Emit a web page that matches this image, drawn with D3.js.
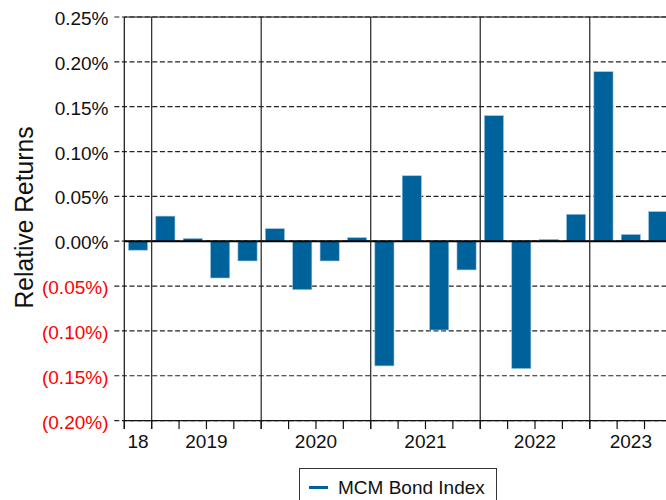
<!DOCTYPE html>
<html>
<head>
<meta charset="utf-8">
<script src="https://cdn.jsdelivr.net/npm/d3@7/dist/d3.min.js"></script>
<style>
  html, body { margin: 0; padding: 0; background: #fff; }
  svg { display: block; font-family: "Liberation Sans", Arial, sans-serif; }
</style>
</head>
<body>
<svg id="chart" width="666" height="500"></svg>
<script>
// ---- Data ----
const quarters = ["2018Q4",
  "2019Q1","2019Q2","2019Q3","2019Q4",
  "2020Q1","2020Q2","2020Q3","2020Q4",
  "2021Q1","2021Q2","2021Q3","2021Q4",
  "2022Q1","2022Q2","2022Q3","2022Q4",
  "2023Q1","2023Q2","2023Q3"];
const bondIndex = [-0.010,
  0.028, 0.003, -0.041, -0.022,
  0.014, -0.054, -0.022, 0.004,
  -0.139, 0.073, -0.099, -0.032,
  0.140, -0.142, 0.002, 0.030,
  0.189, 0.0075, 0.033];
const years = ["2018","2019","2020","2021","2022","2023"];
const yearLabels = ["18","2019","2020","2021","2022","2023"];
const yTicks = [-0.20, -0.15, -0.10, -0.05, 0.00, 0.05, 0.10, 0.15, 0.20, 0.25];
const seriesName = "MCM Bond Index";
const yTitle = "Relative Returns";

(function () {
// ---- Layout ----
const svg = d3.select("#chart");
const pLeft = 124.3, pTop = 17, pBottom = 420.6;
const step = 27.38;
const pRight = pLeft + step * quarters.length;

const x = d3.scaleBand().domain(quarters).range([pLeft, pRight]).paddingInner(0.3).paddingOuter(0.15);
const y = d3.scaleLinear().domain([-0.20, 0.25]).range([pBottom, pTop]);

const barColor = "#00629b";
const ink = "#111";

// dashed gridlines (extend left of axis as tick marks)
svg.append("g").selectAll("line").data(yTicks).join("line")
  .attr("x1", pLeft - 10).attr("x2", 680)
  .attr("y1", d => y(d)).attr("y2", d => y(d))
  .attr("stroke", "#222").attr("stroke-width", 1.2)
  .attr("stroke-dasharray", "5,2.6");

// top frame line
svg.append("line").attr("x1", pLeft).attr("x2", 680)
  .attr("y1", y(0.25)).attr("y2", y(0.25)).attr("stroke", ink).attr("stroke-width", 1.2);

// bars
svg.append("g").selectAll("rect").data(bondIndex).join("rect")
  .attr("x", (d, i) => x(quarters[i]))
  .attr("width", x.bandwidth())
  .attr("y", d => y(Math.max(0, d)))
  .attr("height", d => Math.abs(y(d) - y(0)))
  .attr("fill", barColor)
  .attr("stroke", "#9cc3dc").attr("stroke-width", 0.6);

// zero line
svg.append("line").attr("x1", pLeft).attr("x2", 680)
  .attr("y1", y(0)).attr("y2", y(0)).attr("stroke", "#000").attr("stroke-width", 2);

// year boundary lines
const boundaries = quarters.map((q, i) => ({q, i})).filter(o => o.i > 0 && o.q.endsWith("Q1"));
svg.append("g").selectAll("line").data(boundaries).join("line")
  .attr("x1", d => pLeft + step * d.i).attr("x2", d => pLeft + step * d.i)
  .attr("y1", pTop).attr("y2", pBottom + 8.5)
  .attr("stroke", "#222").attr("stroke-width", 1.2);

// x axis line and quarter ticks
svg.append("line").attr("x1", pLeft).attr("x2", 680)
  .attr("y1", pBottom).attr("y2", pBottom).attr("stroke", ink).attr("stroke-width", 1.2);
svg.append("g").selectAll("line").data(d3.range(quarters.length + 1)).join("line")
  .attr("x1", i => pLeft + step * i).attr("x2", i => pLeft + step * i)
  .attr("y1", pBottom).attr("y2", pBottom + 8.5)
  .attr("stroke", ink).attr("stroke-width", 1.2);

// y axis line
svg.append("line").attr("x1", pLeft).attr("x2", pLeft)
  .attr("y1", pTop).attr("y2", pBottom + 8.5).attr("stroke", ink).attr("stroke-width", 1.2);

// y tick labels
const fmt = d => {
  const s = Math.abs(d).toFixed(2) + "%";
  return d < 0 ? "(" + s + ")" : s;
};
svg.append("g").selectAll("text").data(yTicks).join("text")
  .attr("x", 108.5).attr("y", d => y(d) + 1.5)
  .attr("text-anchor", "end").attr("dominant-baseline", "central")
  .attr("font-size", 19)
  .attr("fill", d => d < 0 ? "#ff0000" : ink)
  .text(fmt);

// year labels centered on visible span of the year's quarters
const yearData = years.map((yr, k) => {
  const idx = quarters.map((q, i) => q.startsWith(yr) ? i : -1).filter(i => i >= 0);
  const x0 = pLeft + step * idx[0], x1 = pLeft + step * (idx[idx.length - 1] + 1);
  return {label: yearLabels[k], cx: (x0 + x1) / 2};
});
svg.append("g").selectAll("text").data(yearData).join("text")
  .attr("x", d => d.cx).attr("y", 448)
  .attr("text-anchor", "middle").attr("font-size", 19).attr("fill", ink)
  .text(d => d.label);

// y axis title
svg.append("text")
  .attr("transform", "translate(32.5,217.5) rotate(-90)")
  .attr("text-anchor", "middle").attr("font-size", 26).attr("fill", ink)
  .attr("textLength", 182).attr("lengthAdjust", "spacingAndGlyphs")
  .text(yTitle);

// legend
const lg = svg.append("g");
lg.append("rect").attr("x", 299.5).attr("y", 468.5).attr("width", 197).attr("height", 40)
  .attr("fill", "#fff").attr("stroke", "#333").attr("stroke-width", 1);
lg.append("line").attr("x1", 309).attr("x2", 328).attr("y1", 487.5).attr("y2", 487.5)
  .attr("stroke", barColor).attr("stroke-width", 3);
lg.append("text").attr("x", 338).attr("y", 494).attr("font-size", 19).attr("fill", ink)
  .text(seriesName);
})();
</script>
</body>
</html>
